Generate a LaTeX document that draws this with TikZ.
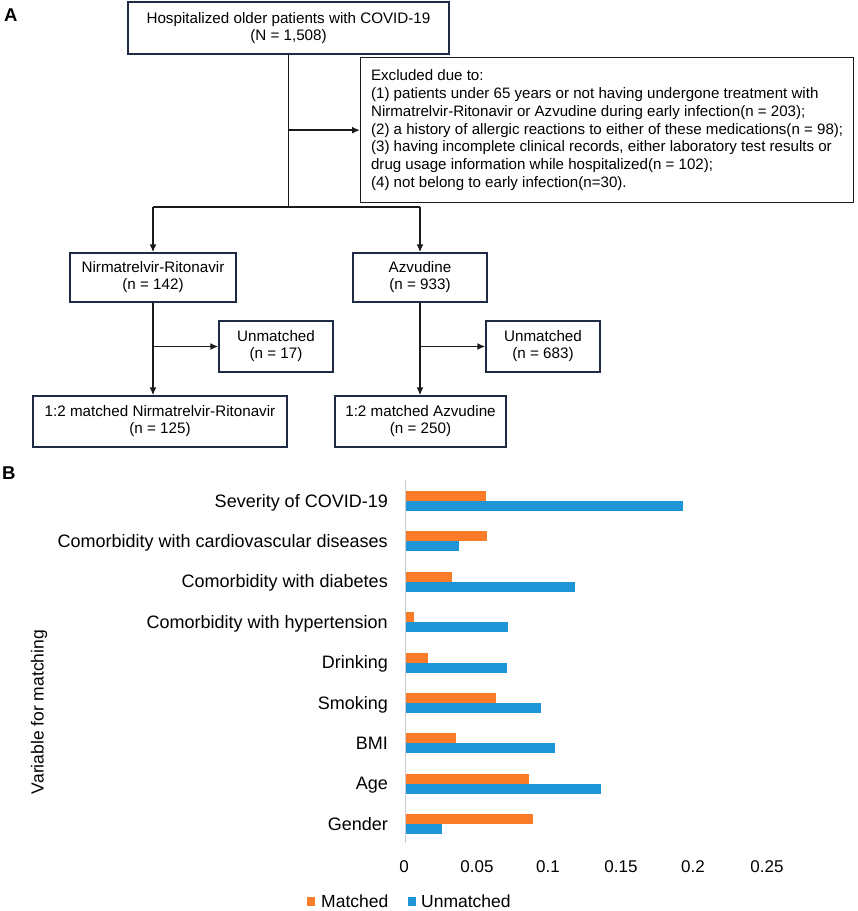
\documentclass[tikz,border=0pt]{standalone}
\usepackage{fontspec}
\setmainfont{Liberation Sans}
\usetikzlibrary{arrows.meta,calc}
\definecolor{boxc}{HTML}{1F2B45}
\definecolor{linec}{HTML}{1A1A1A}
\definecolor{orng}{HTML}{FA7B28}
\definecolor{blu}{HTML}{1E95D6}
\definecolor{axc}{HTML}{CCCCCC}
\begin{document}
\begin{tikzpicture}[x=1pt,y=-1pt,
  fbox/.style={draw=boxc,line width=1.3pt,align=center,inner sep=0pt,font=\fontsize{15.2}{17}\selectfont},
  conn/.style={draw=linec,line width=1.6pt},
  arr/.style={conn,-{Latex[length=8pt,width=7pt]}},
  panel/.style={font=\fontsize{18.5}{20}\selectfont\bfseries,anchor=base west,inner sep=0pt},
  catlab/.style={font=\fontsize{18}{20}\selectfont,anchor=base east,inner sep=0pt},
  ticklab/.style={font=\fontsize{17}{20}\selectfont,anchor=base,inner sep=0pt},
  leglab/.style={font=\fontsize{17.5}{20}\selectfont,anchor=base west,inner sep=0pt}]
\useasboundingbox (0,0) rectangle (858,911);

% ---------- Panel A ----------
\node[panel] (pa) at (4,21) {A};

\node[fbox,minimum width=321pt,minimum height=52pt] (top) at (288.5,28) {Hospitalized older patients with COVID-19\\(N = 1,508)};

\node[draw=linec,line width=1.3pt,align=left,inner xsep=0pt,inner ysep=0pt,minimum width=493pt,minimum height=145pt,
      font=\fontsize{15.1}{17.8}\selectfont,anchor=north west] (excl) at (360,57)
 {Excluded due to:\\
  (1) patients under 65 years or not having undergone treatment with\\
  Nirmatrelvir-Ritonavir or Azvudine during early infection(n = 203);\\
  (2) a history of allergic reactions to either of these medications(n = 98);\\
  (3) having incomplete clinical records, either laboratory test results or\\
  drug usage information while hospitalized(n = 102);\\
  (4) not belong to early infection(n=30).};

\node[fbox,minimum width=166pt,minimum height=49pt] (nirm) at (153,277.5) {Nirmatrelvir-Ritonavir\\(n = 142)};
\node[fbox,minimum width=134pt,minimum height=49pt] (azv) at (420,277.5) {Azvudine\\(n = 933)};

\node[fbox,minimum width=114pt,minimum height=51pt] (un1) at (276,346.5) {Unmatched\\(n = 17)};
\node[fbox,minimum width=114pt,minimum height=51pt] (un2) at (543,346.5) {Unmatched\\(n = 683)};

\node[fbox,minimum width=254pt,minimum height=51pt] (m1) at (160,421.5) {1:2 matched Nirmatrelvir-Ritonavir\\(n = 125)};
\node[fbox,minimum width=171pt,minimum height=51pt] (m2) at (420.5,421.5) {1:2 matched Azvudine\\(n = 250)};

\coordinate (jb) at (287,207);
\draw[conn] (top.south) -- (top.south |- jb);
\draw[arr] (top.south |- excl.west) -- (excl.west);
\draw[conn] (nirm.north |- jb) -- (azv.north |- jb);
\draw[arr] (nirm.north |- jb) -- (nirm.north);
\draw[arr] (azv.north |- jb) -- (azv.north);
\draw[arr] (nirm.south) -- (nirm.south |- m1.north);
\draw[arr] (nirm.south |- un1.west) -- (un1.west);
\draw[arr] (azv.south) -- (azv.south |- m2.north);
\draw[arr] (azv.south |- un2.west) -- (un2.west);

% ---------- Panel B ----------
\node[panel] (pb) at (2,479) {B};

\node[rotate=90,font=\fontsize{17.5}{20}\selectfont,inner sep=0pt] (ytitle) at (39,712) {Variable for matching};

\foreach \lab/\o/\b [count=\i from 0] in {
  Severity of COVID-19/486/683,
  Comorbidity with cardiovascular diseases/487/459,
  Comorbidity with diabetes/452/575,
  Comorbidity with hypertension/414/508,
  Drinking/428/507,
  Smoking/496/541,
  BMI/456/555,
  Age/529/601,
  Gender/533/442}{
  \pgfmathsetmacro{\c}{501+\i*40.4}
  \fill[orng] (405,\c-10) rectangle (\o,\c);
  \fill[blu] (405,\c) rectangle (\b,\c+10);
  \node[catlab] (cat\i) at (388,\c+6) {\lab};
}

\draw[axc,line width=1pt] (405,480) -- (405,843);

\foreach \v/\x [count=\j] in {0/404,0.05/477,0.1/548,0.15/621,0.2/693,0.25/767}{
  \node[ticklab] (tick\j) at (\x,872) {\v};
}

\fill[orng] (307,897) rectangle (315,906);
\node[leglab] (lm) at (321,907) {Matched};
\fill[blu] (408,897) rectangle (416,906);
\node[leglab] (lu) at (421,907) {Unmatched};
\end{tikzpicture}
\end{document}
